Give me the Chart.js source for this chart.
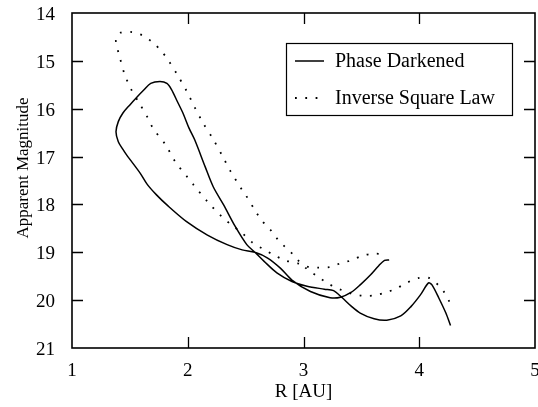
<!DOCTYPE html>
<html>
<head>
<meta charset="utf-8">
<script src="https://cdn.jsdelivr.net/npm/chart.js@4/dist/chart.umd.min.js"></script>
<style>
  html, body { margin: 0; padding: 0; background: #fff; }
  canvas { display: block; }
</style>
</head>
<body>
<canvas id="magChart" width="538" height="407"></canvas>
<script>
// solid curve, traced from the R = 4.27 end round the loop to the R = 3.74 end
const phaseR = [4.27, 4.23, 4.17, 4.11, 4.08, 4.01, 3.93, 3.84, 3.72, 3.61, 3.49, 3.41, 3.33, 3.26, 3.18,
  3.03, 2.90, 2.77, 2.66, 2.58, 2.51, 2.41, 2.31, 2.22, 2.15, 2.06, 2.01, 1.96, 1.91, 1.86, 1.82, 1.76,
  1.68, 1.62, 1.56, 1.50, 1.44, 1.40, 1.38, 1.40, 1.44, 1.47, 1.59, 1.65, 1.73, 1.82, 1.99, 2.17, 2.34,
  2.47, 2.58, 2.69, 2.80, 2.90, 3.06, 3.23, 3.32, 3.41, 3.49, 3.58, 3.65, 3.70, 3.74];
const phaseMag = [20.53, 20.27, 19.96, 19.68, 19.64, 19.89, 20.13, 20.33, 20.42, 20.39, 20.27, 20.12, 19.94, 19.80, 19.77,
  19.71, 19.61, 19.43, 19.19, 19.00, 18.84, 18.46, 18.01, 17.63, 17.21, 16.65, 16.40, 16.10, 15.85, 15.60, 15.47, 15.43,
  15.47, 15.61, 15.76, 15.92, 16.09, 16.27, 16.48, 16.69, 16.85, 16.96, 17.35, 17.58, 17.80, 18.01, 18.36, 18.64, 18.84,
  18.95, 19.00, 19.12, 19.33, 19.58, 19.82, 19.95, 19.94, 19.84, 19.68, 19.47, 19.28, 19.17, 19.16];

// dotted curve, same direction
const inverseR = [4.26, 4.22, 4.17, 4.09, 3.99, 3.89, 3.80, 3.71, 3.61, 3.51, 3.41, 3.31, 3.21, 3.12, 3.03,
  2.95, 2.89, 2.82, 2.76, 2.71, 2.64, 2.59, 2.50, 2.46, 2.37, 2.30, 2.22, 2.13, 2.06, 1.99, 1.91, 1.83,
  1.77, 1.70, 1.61, 1.52, 1.42, 1.38, 1.39, 1.41, 1.45, 1.51, 1.59, 1.65, 1.70, 1.81, 1.89, 2.00, 2.05,
  2.17, 2.30, 2.38, 2.47, 2.56, 2.65, 2.74, 2.84, 2.95, 3.03, 3.12, 3.23, 3.32, 3.41, 3.51, 3.60, 3.71];
const inverseMag = [20.03, 19.85, 19.70, 19.54, 19.54, 19.64, 19.76, 19.84, 19.90, 19.91, 19.86, 19.77, 19.65, 19.50, 19.35,
  19.16, 19.00, 18.84, 18.68, 18.52, 18.34, 18.16, 17.80, 17.66, 17.31, 16.99, 16.64, 16.29, 15.97, 15.63, 15.29, 14.98,
  14.79, 14.62, 14.47, 14.40, 14.41, 14.55, 14.72, 14.90, 15.25, 15.59, 15.92, 16.17, 16.41, 16.76, 17.10, 17.44, 17.59,
  17.94, 18.27, 18.43, 18.60, 18.80, 18.93, 19.05, 19.17, 19.23, 19.30, 19.32, 19.31, 19.23, 19.17, 19.07, 19.03, 19.04];

const xTicks = [1, 2, 3, 4, 5];
const yTicks = [14, 15, 16, 17, 18, 19, 20, 21];
const seriesNames = ['Phase Darkened', 'Inverse Square Law'];
const xTitle = 'R [AU]';
const yTitle = 'Apparent Magnitude';

const serif = 'Liberation Serif, Times New Roman, serif';

function toPoints(xs, ys) {
  return xs.map((v, i) => ({ x: v, y: ys[i] }));
}

// box, inward ticks on all four sides, legend and the y title
const framePlugin = {
  id: 'framePlugin',
  afterDraw(chart) {
    const { ctx, chartArea: a, scales } = chart;
    const xs = scales.x, ys = scales.y;
    ctx.save();
    ctx.strokeStyle = '#000';
    ctx.lineWidth = 1.6;
    ctx.strokeRect(a.left, a.top, a.right - a.left, a.bottom - a.top);

    const tl = 11;
    ctx.beginPath();
    xs.ticks.forEach(t => {
      if (t.value <= xs.min || t.value >= xs.max) return;
      const px = Math.round(xs.getPixelForValue(t.value)) + 0.5;
      ctx.moveTo(px, a.bottom); ctx.lineTo(px, a.bottom - tl);
      ctx.moveTo(px, a.top); ctx.lineTo(px, a.top + tl);
    });
    ys.ticks.forEach(t => {
      if (t.value <= ys.min || t.value >= ys.max) return;
      const py = Math.round(ys.getPixelForValue(t.value)) + 0.5;
      ctx.moveTo(a.left, py); ctx.lineTo(a.left + tl, py);
      ctx.moveTo(a.right, py); ctx.lineTo(a.right - tl, py);
    });
    ctx.lineWidth = 1.3;
    ctx.stroke();

    // legend
    ctx.lineWidth = 1.2;
    ctx.strokeRect(286.5, 43.5, 226, 72);
    ctx.font = '20px ' + serif;
    ctx.fillStyle = '#000';
    ctx.textAlign = 'left';
    ctx.textBaseline = 'middle';
    const rows = [61, 98];
    chart.data.datasets.forEach((ds, i) => {
      ctx.save();
      ctx.lineWidth = ds.borderWidth;
      ctx.setLineDash(ds.borderDash || []);
      ctx.beginPath();
      ctx.moveTo(295, rows[i]);
      ctx.lineTo(324, rows[i]);
      ctx.stroke();
      ctx.restore();
      ctx.fillText(ds.label, 335, rows[i] + 1);
    });

    // y axis title
    ctx.font = '17px ' + serif;
    ctx.translate(24, 168);
    ctx.rotate(-Math.PI / 2);
    ctx.textAlign = 'center';
    ctx.fillText(yTitle, 0, 0);
    ctx.restore();
  }
};

new Chart(document.getElementById('magChart'), {
  type: 'scatter',
  data: {
    datasets: [
      {
        label: seriesNames[0],
        data: toPoints(phaseR, phaseMag),
        showLine: true,
        borderColor: '#000',
        borderWidth: 1.5,
        pointRadius: 0,
        tension: 0.3
      },
      {
        label: seriesNames[1],
        data: toPoints(inverseR, inverseMag),
        showLine: true,
        borderColor: '#000',
        borderWidth: 1.8,
        borderDash: [1.8, 8.5],
        pointRadius: 0,
        tension: 0.3
      }
    ]
  },
  options: {
    responsive: false,
    animation: false,
    layout: { padding: { left: 0, right: 3, top: 13, bottom: 0 } },
    plugins: {
      legend: { display: false },
      tooltip: { enabled: false }
    },
    scales: {
      x: {
        type: 'linear',
        min: 1,
        max: 5,
        grid: { display: false, drawTicks: false },
        border: { display: false },
        afterBuildTicks: s => { s.ticks = xTicks.map(v => ({ value: v })); },
        afterFit: s => { s.height = 59; s.paddingLeft = 0; s.paddingRight = 0; },
        ticks: {
          color: '#000',
          padding: 12,
          maxRotation: 0,
          font: { family: serif, size: 19 }
        },
        title: {
          display: true,
          text: xTitle,
          color: '#000',
          padding: { top: 0, bottom: 4 },
          font: { family: serif, size: 19 }
        }
      },
      y: {
        type: 'linear',
        reverse: true,
        min: 14,
        max: 21,
        grid: { display: false, drawTicks: false },
        border: { display: false },
        afterBuildTicks: s => { s.ticks = yTicks.map(v => ({ value: v })); },
        afterFit: s => { s.width = 72; s.paddingTop = 0; s.paddingBottom = 0; },
        ticks: {
          color: '#000',
          padding: 17,
          labelOffset: 2,
          font: { family: serif, size: 19 }
        }
      }
    }
  },
  plugins: [framePlugin]
});
</script>
</body>
</html>
